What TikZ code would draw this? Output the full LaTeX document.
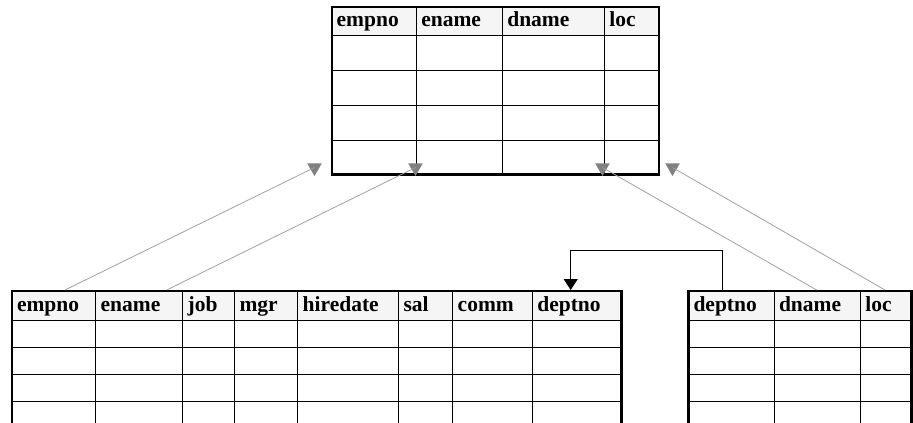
\documentclass[tikz,border=0pt]{standalone}
\usepackage{fontspec}
\setmainfont{Liberation Serif}
\usepackage{xcolor}
\usepackage{tikz}
\usetikzlibrary{arrows.meta,positioning,shapes}

\definecolor{headgray}{HTML}{F5F5F5}
\definecolor{linkgray}{HTML}{A0A0A0}
\definecolor{tipgray}{HTML}{808080}

\tikzset{
  hcell/.style={draw, line width=1pt, fill=headgray, anchor=north west, outer sep=0pt,
    inner xsep=5pt, inner ysep=0pt, align=left, text height=14.5pt, text depth=4pt,
    font=\bfseries\fontsize{21.5}{25}\selectfont},
  grid/.style={line width=1pt},
  border/.style={line width=2.2pt},
  fk/.style={draw=linkgray, line width=0.8pt},
  gtip/.style={regular polygon, regular polygon sides=3, shape border rotate=180,
    fill=tipgray, draw=none, minimum size=17pt, inner sep=0pt},
  ref/.style={line width=1pt, -{Triangle[width=14pt,length=11pt]}}
}

\begin{document}
\begin{tikzpicture}[x=1pt,y=-1pt]
\useasboundingbox (0,0) rectangle (913,423);

% joined table
\node[hcell, text width=74.6pt, minimum height=28.3pt] (j-empno) at (331.7,6.7) {empno};
\node[hcell, text width=76pt, minimum height=28.3pt] (j-ename) at (416.3,6.7) {ename};
\node[hcell, text width=92pt, minimum height=28.3pt] (j-dname) at (502.3,6.7) {dname};
\node[hcell, text width=44.7pt, minimum height=28.3pt] (j-loc) at (604.3,6.7) {loc};
\draw[grid] (331.7,70.3) -- (659,70.3);
\draw[grid] (331.7,105.3) -- (659,105.3);
\draw[grid] (331.7,140) -- (659,140);
\draw[grid] (416.3,35) -- (416.3,174.5);
\draw[grid] (502.3,35) -- (502.3,174.5);
\draw[grid] (604.3,35) -- (604.3,174.5);
\draw[border] (331.7,6.7) rectangle (659,174.5);

% emp table
\node[hcell, text width=73.7pt, minimum height=29.7pt] (emp-empno) at (12,291) {empno};
\node[hcell, text width=77pt, minimum height=29.7pt] (emp-ename) at (95.7,291) {ename};
\node[hcell, text width=41.8pt, minimum height=29.7pt] (emp-job) at (182.7,291) {job};
\node[hcell, text width=53.2pt, minimum height=29.7pt] (emp-mgr) at (234.5,291) {mgr};
\node[hcell, text width=90.8pt, minimum height=29.7pt] (emp-hiredate) at (297.7,291) {hiredate};
\node[hcell, text width=44.2pt, minimum height=29.7pt] (emp-sal) at (398.5,291) {sal};
\node[hcell, text width=69.6pt, minimum height=29.7pt] (emp-comm) at (452.7,291) {comm};
\node[hcell, text width=79.2pt, minimum height=29.7pt] (emp-deptno) at (532.3,291) {deptno};
\draw[grid] (12,347.3) -- (621.5,347.3);
\draw[grid] (12,374.3) -- (621.5,374.3);
\draw[grid] (12,401.3) -- (621.5,401.3);
\draw[grid] (95.7,320.7) -- (95.7,423);
\draw[grid] (182.7,320.7) -- (182.7,423);
\draw[grid] (234.5,320.7) -- (234.5,423);
\draw[grid] (297.7,320.7) -- (297.7,423);
\draw[grid] (398.5,320.7) -- (398.5,423);
\draw[grid] (452.7,320.7) -- (452.7,423);
\draw[grid] (532.3,320.7) -- (532.3,423);
\draw[border] (12,423) -- (12,291) -- (621.5,291) -- (621.5,423);

% dept table
\node[hcell, text width=75.5pt, minimum height=29.7pt] (dept-deptno) at (688.5,291) {deptno};
\node[hcell, text width=76.3pt, minimum height=29.7pt] (dept-dname) at (774,291) {dname};
\node[hcell, text width=41.2pt, minimum height=29.7pt] (dept-loc) at (860.3,291) {loc};
\draw[grid] (688.5,347.3) -- (911.5,347.3);
\draw[grid] (688.5,374.3) -- (911.5,374.3);
\draw[grid] (688.5,401.3) -- (911.5,401.3);
\draw[grid] (774,320.7) -- (774,423);
\draw[grid] (860.3,320.7) -- (860.3,423);
\draw[border] (688.5,423) -- (688.5,291) -- (911.5,291) -- (911.5,423);

% columns carried into the joined table
\coordinate (srcEmpno) at (65,290);
\coordinate (srcEname) at (166.7,290);
\coordinate (srcDname) at (816.7,290);
\coordinate (srcLoc) at (885,290);
\node[gtip] (tipEmpno) at (314.5,167.5) {};
\node[gtip] (tipEname) at (415.5,167.5) {};
\node[gtip] (tipDname) at (602.5,167.5) {};
\node[gtip] (tipLoc) at (672.5,167.5) {};
\draw[fk] (srcEmpno) -- (tipEmpno.center);
\draw[fk] (srcEname) -- (tipEname.center);
\draw[fk] (srcDname) -- (tipDname.center);
\draw[fk] (srcLoc) -- (tipLoc.center);

% foreign key
\coordinate (srcDeptno) at (722.3,290);
\coordinate (bendDeptno) at (646,250.7);
\coordinate (dstDeptno) at (570.7,290);
\draw[ref] (srcDeptno) |- (bendDeptno) -| (dstDeptno);
\end{tikzpicture}
\end{document}
